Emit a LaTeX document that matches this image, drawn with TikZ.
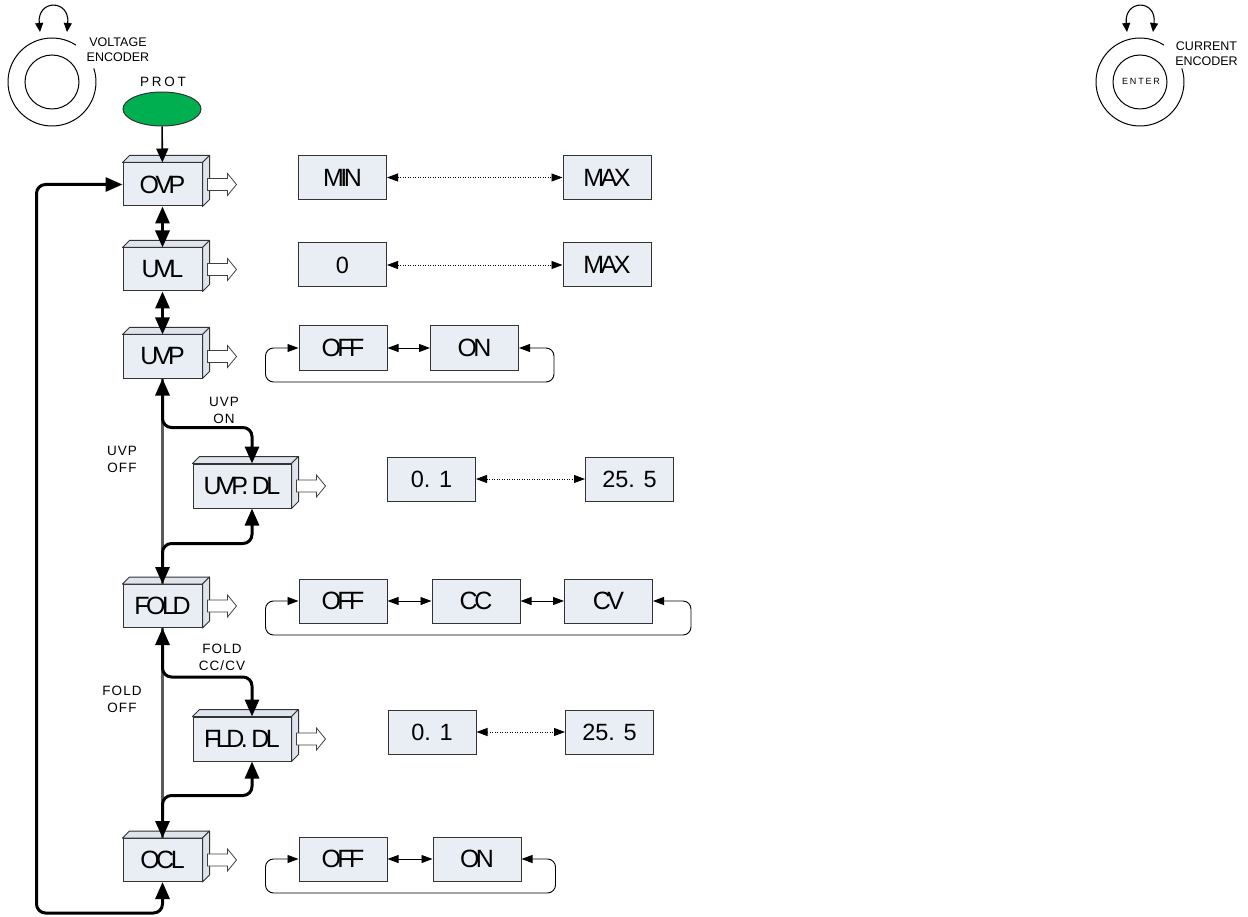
\documentclass[tikz,border=0pt]{standalone}
\usepackage{fontspec}
\setmainfont{Liberation Sans}
\newfontfamily\squeezed[LetterSpace=-14]{Liberation Sans}
\newfontfamily\spaced[LetterSpace=20]{Liberation Sans}
\newfontfamily\airy[LetterSpace=8]{Liberation Sans}
\usepackage{tikz}
\usetikzlibrary{positioning}
\usetikzlibrary{arrows.meta}
\usetikzlibrary{shapes.geometric}
\definecolor{boxfill}{HTML}{E9EDF4}
\definecolor{sidefill}{HTML}{DEE3EC}
\definecolor{protgreen}{HTML}{00B050}
\definecolor{bypassgray}{HTML}{5A5A5A}
\tikzset{menu/.style={draw=black!80, line width=1pt, fill=boxfill,
      minimum width=79pt, minimum height=43pt, inner sep=0pt,
      font=\squeezed\fontsize{25}{28}\selectfont},
    wide/.style={menu, minimum width=98pt, minimum height=44pt},
    valbox/.style={menu, minimum width=88pt, minimum height=44pt},
    numbox/.style={valbox, font=\fontsize{23.5}{26}\selectfont},
    face/.style={draw=black!80, line width=1pt, fill=sidefill, line join=round},
    tag/.style={font=\airy\fontsize{13.5}{17}\selectfont, align=center, inner sep=0pt},
    enc/.style={font=\fontsize{12.5}{15}\selectfont, align=center, inner sep=0pt},
    flow/.style={line width=3pt, rounded corners=9pt,
      {Triangle[length=17pt,width=14pt]}-{Triangle[length=17pt,width=14pt]}},
    bypass/.style={line width=3.5pt, draw=bypassgray},
    rangeline/.style={line width=0.8pt, dash pattern=on 1pt off 1.5pt,
      {Triangle[length=11pt,width=8pt]}-{Triangle[length=11pt,width=8pt]}},
    toggle/.style={line width=0.9pt,
      {Triangle[length=11pt,width=8pt]}-{Triangle[length=11pt,width=8pt]}},
    cycleline/.style={toggle, rounded corners=8pt},
    knob/.style={line width=1.1pt,
      {Triangle[length=9pt,width=8pt]}-{Triangle[length=9pt,width=8pt]}},
    hollow/.pic={\draw[line width=0.8pt, draw=black!75, fill=white]
      (0,-6) -- (20,-6) -- (20,-11) -- (29,0) -- (20,11) -- (20,6) -- (0,6) -- cycle;}}
\begin{document}
\begin{tikzpicture}[x=1pt, y=-1pt]
\useasboundingbox (0,0) rectangle (1248,917);

% encoders
\draw[line width=1pt] ([shift={(-57:44)}]52,82) arc[start angle=-57, end angle=-378, radius=44];
\draw[line width=1pt] (52,82) circle[radius=27];
\draw[knob] (40,32) .. controls (37,-1) and (70,-1) .. (67,32);
\node[enc] (venc) at (118,49.5) {VOLTAGE\\ENCODER};
\draw[line width=1pt] ([shift={(-57:44)}]1140,82) arc[start angle=-57, end angle=-378, radius=44];
\draw[line width=1pt] (1140,82) circle[radius=27];
\draw[knob] (1127,32) .. controls (1124,-1) and (1157,-1) .. (1153,32);
\node[enc] (cenc) at (1206.5,53.5) {CURRENT\\ENCODER};
\node[font=\spaced\fontsize{9}{11}\selectfont, inner sep=0pt] (enter) at (1141,81) {ENTER};

% prot button
\node[font=\spaced\fontsize{13.5}{16}\selectfont, inner sep=0pt] (prottxt) at (163,82) {PROT};
\node[ellipse, draw=black!80, line width=1pt, fill=protgreen,
    minimum width=78pt, minimum height=34pt] (prot) at (162,109) {};

% menu column
\node[menu] (ovp) at (162.5,184.5) {OVP};
\node[menu] (uvl) at (162.5,269.5) {UVL};
\node[menu] (uvp) at (162.5,356.5) {UVP};
\node[wide] (uvpdl) at (242,486) {UVP. DL};
\node[menu] (fold) at (162.5,606) {FOLD};
\node[wide] (flddl) at (242,739) {FLD. DL};
\node[menu] (ocl) at (162.5,860) {OCL};

\foreach \b in {ovp,uvl,uvp,uvpdl,fold,flddl,ocl}{
  \filldraw[face] (\b.north west) -- ++(7,-7) -- ([shift={(7,-7)}]\b.north east)
    -- (\b.north east) -- cycle;
  \filldraw[face] (\b.north east) -- ([shift={(7,-7)}]\b.north east)
    -- ([shift={(7,-7)}]\b.south east) -- (\b.south east) -- cycle;
  \pic at ([xshift=5pt]\b.east) {hollow};
}

% values
\node[valbox] (min) at (342.5,177.5) {MIN};
\node[valbox] (max) at (607,177.5) {MAX};
\node[numbox] (zero) at (342.5,265) {0};
\node[valbox] (umax) at (607,265) {MAX};
\node[valbox] (uoff) at (343,348) {OFF};
\node[valbox] (uon) at (474.5,348) {ON};
\node[numbox] (ulow) at (431.5,479) {0. 1};
\node[numbox] (uhigh) at (629.5,479) {25. 5};
\node[valbox] (foff) at (343,601) {OFF};
\node[valbox] (fcc) at (476,601) {CC};
\node[valbox] (fcv) at (608.5,601) {CV};
\node[numbox] (flow) at (432,732) {0. 1};
\node[numbox] (fhigh) at (609.5,732) {25. 5};
\node[valbox] (ooff) at (343,859) {OFF};
\node[valbox] (oon) at (477,859) {ON};

\draw[rangeline] (min) -- (max);
\draw[rangeline] (zero) -- (umax);
\draw[rangeline] (ulow) -- (uhigh);
\draw[rangeline] (flow) -- (fhigh);
\draw[toggle] (uoff) -- (uon);
\draw[toggle] (foff) -- (fcc);
\draw[toggle] (fcc) -- (fcv);
\draw[toggle] (ooff) -- (oon);
\draw[cycleline] (uon.east) -- ++(35,0) -- ++(0,34) -| ([xshift=-33pt]uoff.west) -- (uoff.west);
\draw[cycleline] (fcv.east) -- ++(38,0) -- ++(0,34) -| ([xshift=-33pt]foff.west) -- (foff.west);
\draw[cycleline] (oon.east) -- ++(34,0) -- ++(0,34) -| ([xshift=-33pt]ooff.west) -- (ooff.west);

% connectors
\draw[line width=1.6pt, -{Triangle[length=14pt,width=12pt]}] (prot) -- (ovp);
\draw[flow] (ovp) -- (uvl);
\draw[flow] (uvl) -- (uvp);
\draw[bypass] (uvp.south) -- (fold.north);
\draw[bypass] (fold.south) -- (ocl.north);
\draw[flow] (uvp.south) -- ++(0,49) -| ([xshift=10pt]uvpdl.north);
\draw[flow] ([xshift=10pt]uvpdl.south) -- ++(0,35) -| (fold.north);
\draw[flow] (fold.south) -- ++(0,49) -| ([xshift=10pt]flddl.north);
\draw[flow] ([xshift=10pt]flddl.south) -- ++(0,34) -| (ocl.north);
\draw[flow] (ocl.south) -- ++(0,31) -| ([xshift=-86pt]ovp.west) -- (ovp.west);

% branch labels
\node[tag] (uvpon) at (224,410) {UVP\\ON};
\node[tag] (uvpoff) at (122,459) {UVP\\OFF};
\node[tag] (foldcc) at (222,657) {FOLD\\CC/CV};
\node[tag] (foldoff) at (122,699.5) {FOLD\\OFF};
\end{tikzpicture}
\end{document}
